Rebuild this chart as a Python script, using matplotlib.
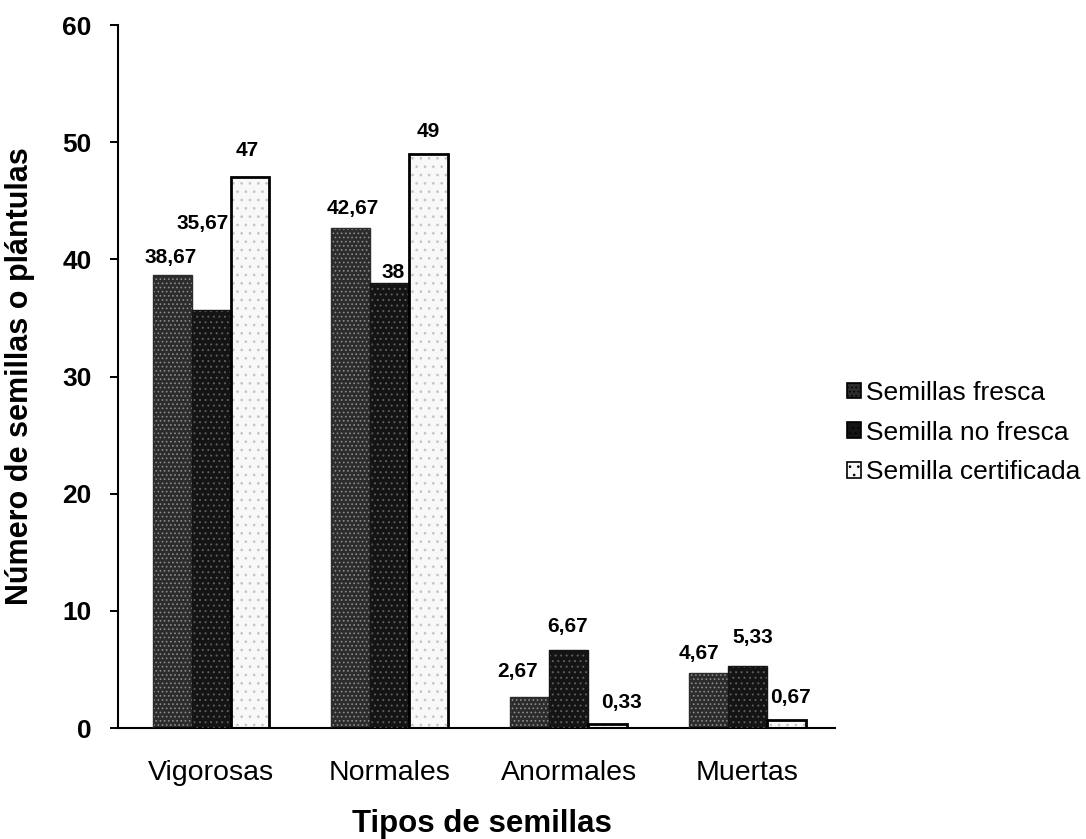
import matplotlib
matplotlib.use("Agg")
import matplotlib.pyplot as plt
import numpy as np

plt.rcParams['font.family'] = ['Liberation Sans', 'DejaVu Sans']
plt.rcParams['hatch.linewidth'] = 0.7

categories = ["Vigorosas", "Normales", "Anormales", "Muertas"]
series_names = ["Semillas fresca", "Semilla no fresca", "Semilla certificada"]
fresca = [38.67, 42.67, 2.67, 4.67]
no_fresca = [35.67, 38, 6.67, 5.33]
certificada = [47, 49, 0.33, 0.67]
value_labels = [
    ["38,67", "42,67", "2,67", "4,67"],
    ["35,67", "38", "6,67", "5,33"],
    ["47", "49", "0,33", "0,67"],
]

# label nudges (pixels): horizontal shift, height of label centre above the bar top
label_nudge = [
    [(-1, 17), (2, 20), (-12, 25), (-9, 20)],
    [(-8, 87), (3, 10), (-1, 23), (5, 28)],
    [(-3, 27), (-1, 22), (14, 22), (4, 23)],
]

DPI = 100
fig = plt.figure(figsize=(10.86, 8.39), dpi=DPI)
ax = fig.add_axes([0.1087, 0.1323, 0.6602, 0.8379])

x = np.arange(len(categories))
w = 0.218
face = ["#2c2c2c", "#141414", "#f8f8f8"]
speckle = ["#8c8c8c", "#5e5e5e", "#c4c4c4"]
hatches = ["....", "...", ".."]
edge = ["#2c2c2c", "#141414", "black"]

px2pt = 72.0 / DPI
handles = []
for i, vals in enumerate([fresca, no_fresca, certificada]):
    pos = x + (i - 1) * w
    bars = ax.bar(pos, vals, w, facecolor=face[i], edgecolor="none", linewidth=0,
                  zorder=2)
    # speckled texture on top of the fill
    ax.bar(pos, vals, w, facecolor="none", edgecolor=speckle[i], hatch=hatches[i],
           linewidth=0, zorder=3)
    ax.bar(pos, vals, w, facecolor="none", edgecolor=edge[i],
           linewidth=2.0 if i == 2 else 1.0, zorder=4)
    handles.append(plt.Rectangle((0, 0), 1, 1, facecolor=face[i], edgecolor="black",
                                 hatch=hatches[i], linewidth=1.2))
    for b, lab, (dx, dy) in zip(bars, value_labels[i], label_nudge[i]):
        ax.annotate(lab, (b.get_x() + b.get_width() / 2, b.get_height()),
                    xytext=(dx * px2pt, dy * px2pt), textcoords="offset points",
                    ha="center", va="center", fontsize=15, fontweight="bold",
                    zorder=5)

ax.set_xlim(-0.52, 3.49)
ax.set_ylim(0, 60)
ax.set_yticks(range(0, 61, 10))
ax.set_xticks(x)
ax.set_xticklabels(categories, fontsize=20.5)
ax.tick_params(axis="x", length=0, pad=23)
ax.tick_params(axis="y", labelsize=19, length=6, width=1.4, direction="out", pad=13)
for t in ax.get_yticklabels():
    t.set_fontweight("bold")
for s in ["top", "right"]:
    ax.spines[s].set_visible(False)
for s in ["left", "bottom"]:
    ax.spines[s].set_linewidth(1.5)

ax.set_ylabel("Número de semillas o plántulas", fontsize=22, fontweight="bold")
ax.yaxis.set_label_coords(-0.1158, 0.5)
ax.set_xlabel("Tipos de semillas", fontsize=22.5, fontweight="bold")
ax.xaxis.set_label_coords(0.508, -0.1152)

fig.legend(handles, series_names, loc="center left", bbox_to_anchor=(0.780, 0.4845),
           frameon=False, fontsize=19, handlelength=0.53, handleheight=0.53,
           handletextpad=0.19, labelspacing=0.6, borderpad=0, borderaxespad=0)

fig.savefig("out.png", dpi=DPI)
